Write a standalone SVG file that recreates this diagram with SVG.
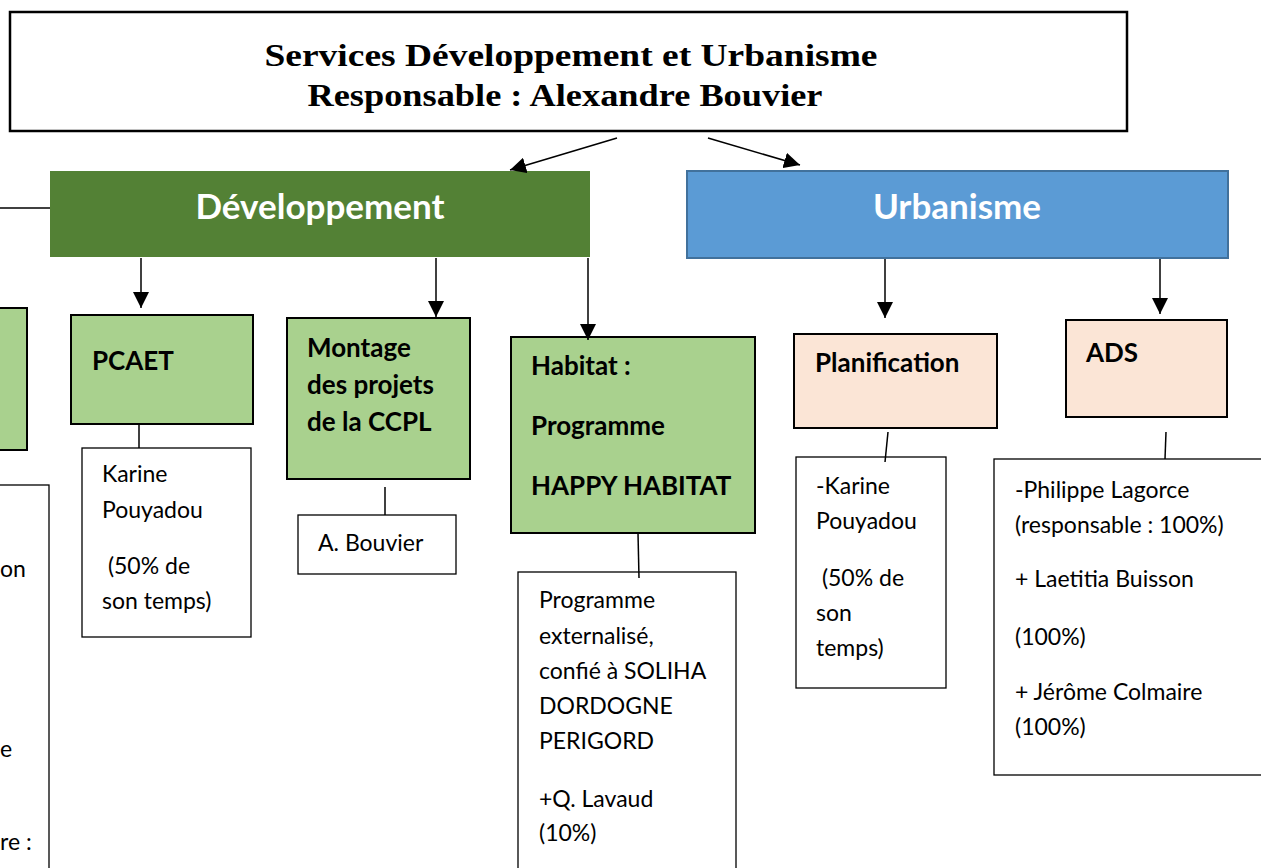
<svg xmlns="http://www.w3.org/2000/svg" width="1261" height="868" viewBox="0 0 1261 868">
<defs>
<marker id="ahb" viewBox="0 0 10 10" refX="10" refY="5" markerWidth="16" markerHeight="16" markerUnits="userSpaceOnUse" orient="auto">
<path d="M0,0 L10,5 L0,10 z" fill="#000"/>
</marker>
</defs>
<style>
.title{font-family:"Liberation Serif","DejaVu Serif",serif;font-weight:bold;font-size:31px;fill:#000}
.head{font-family:Lato,"Liberation Sans",sans-serif;font-weight:bold;font-size:35px;fill:#fff}
.sub{font-family:Lato,"Liberation Sans",sans-serif;font-weight:bold;font-size:26px;fill:#000}
.txt{font-family:Lato,"Liberation Sans",sans-serif;font-size:23px;fill:#000}
.green{fill:#A9D18E;stroke:#000;stroke-width:2}
.peach{fill:#FBE5D6;stroke:#000;stroke-width:2}
.white{fill:#fff;stroke:#000;stroke-width:1.3}
.conn{stroke:#000;stroke-width:1.5;fill:none}
</style>
<rect width="1261" height="868" fill="#fff"/>

<g id="title">
<rect x="10" y="12" width="1117" height="119" fill="#fff" stroke="#000" stroke-width="2.5"/>
<text class="title" x="571" y="66" text-anchor="middle" textLength="613" lengthAdjust="spacingAndGlyphs">Services Développement et Urbanisme</text>
<text class="title" x="565" y="106" text-anchor="middle" textLength="515" lengthAdjust="spacingAndGlyphs">Responsable : Alexandre Bouvier</text>
</g>

<g id="developpement">
<rect x="50" y="171" width="540" height="86" fill="#538135"/>
<text class="head" x="320" y="219" text-anchor="middle">Développement</text>
</g>

<g id="urbanisme">
<rect x="687" y="171" width="541" height="87" fill="#5B9BD5" stroke="#41719C" stroke-width="2"/>
<text class="head" x="957" y="219" text-anchor="middle">Urbanisme</text>
</g>

<g id="left-partial">
<rect x="-10" y="308" width="37" height="142" class="green"/>
<rect x="-10" y="485" width="59" height="400" class="white"/>
<text class="txt" x="0" y="577">on</text>
<text class="txt" x="0" y="757">e</text>
<text class="txt" x="0" y="850">re :</text>
</g>

<g id="pcaet">
<rect x="71" y="315" width="182" height="109" class="green"/>
<text class="sub" x="92" y="370">PCAET</text>
</g>
<g id="pcaet-staff">
<rect x="82" y="448" width="169" height="189" class="white"/>
<text class="txt" x="102" y="482">Karine</text>
<text class="txt" x="102" y="518">Pouyadou</text>
<text class="txt" x="102" y="574" xml:space="preserve"> (50% de</text>
<text class="txt" x="102" y="609">son temps)</text>
</g>

<g id="montage">
<rect x="287" y="318" width="183" height="161" class="green"/>
<text class="sub" x="307" y="357">Montage</text>
<text class="sub" x="307" y="394">des projets</text>
<text class="sub" x="307" y="431">de la CCPL</text>
</g>
<g id="montage-staff">
<rect x="298" y="515" width="158" height="59" class="white"/>
<text class="txt" x="318" y="551">A. Bouvier</text>
</g>

<g id="habitat">
<rect x="511" y="337" width="244" height="196" class="green"/>
<text class="sub" x="531" y="375">Habitat :</text>
<text class="sub" x="531" y="435">Programme</text>
<text class="sub" x="531" y="495">HAPPY HABITAT</text>
</g>
<g id="habitat-staff">
<rect x="518" y="572" width="218" height="310" class="white"/>
<text class="txt" x="539" y="608">Programme</text>
<text class="txt" x="539" y="644">externalisé,</text>
<text class="txt" x="539" y="679">confié à SOLIHA</text>
<text class="txt" x="539" y="714">DORDOGNE</text>
<text class="txt" x="539" y="749">PERIGORD</text>
<text class="txt" x="539" y="807">+Q. Lavaud</text>
<text class="txt" x="539" y="841">(10%)</text>
</g>

<g id="planification">
<rect x="794" y="334" width="203" height="94" class="peach"/>
<text class="sub" x="815" y="372">Planification</text>
</g>
<g id="planification-staff">
<rect x="796" y="457" width="150" height="231" class="white"/>
<text class="txt" x="816" y="494">-Karine</text>
<text class="txt" x="816" y="529">Pouyadou</text>
<text class="txt" x="816" y="586" xml:space="preserve"> (50% de</text>
<text class="txt" x="816" y="621">son</text>
<text class="txt" x="816" y="656">temps)</text>
</g>

<g id="ads">
<rect x="1066" y="320" width="161" height="97" class="peach"/>
<text class="sub" x="1086" y="362">ADS</text>
</g>
<g id="ads-staff">
<rect x="994" y="459" width="280" height="316" class="white"/>
<text class="txt" x="1015" y="498">-Philippe Lagorce</text>
<text class="txt" x="1015" y="533">(responsable : 100%)</text>
<text class="txt" x="1015" y="587">+ Laetitia Buisson</text>
<text class="txt" x="1015" y="645">(100%)</text>
<text class="txt" x="1015" y="700">+ Jérôme Colmaire</text>
<text class="txt" x="1015" y="735">(100%)</text>
</g>

<g id="connectors">
<line class="conn" x1="617" y1="138" x2="510" y2="170" marker-end="url(#ahb)"/>
<line class="conn" x1="708" y1="138" x2="800" y2="165" marker-end="url(#ahb)"/>
<line class="conn" x1="0" y1="208" x2="50" y2="208"/>
<line class="conn" x1="141" y1="258" x2="141" y2="308" marker-end="url(#ahb)"/>
<line class="conn" x1="436" y1="258" x2="436" y2="317" marker-end="url(#ahb)"/>
<line class="conn" x1="588" y1="258" x2="588" y2="340" marker-end="url(#ahb)"/>
<line class="conn" x1="885" y1="259" x2="885" y2="318" marker-end="url(#ahb)"/>
<line class="conn" x1="1160" y1="259" x2="1160" y2="314" marker-end="url(#ahb)"/>
<line class="conn" x1="139" y1="424" x2="139" y2="448"/>
<line class="conn" x1="385" y1="487" x2="385" y2="515"/>
<line class="conn" x1="638" y1="533" x2="639" y2="578"/>
<line class="conn" x1="888" y1="432" x2="885" y2="462"/>
<line class="conn" x1="1166" y1="432" x2="1165" y2="459"/>
</g>
</svg>
